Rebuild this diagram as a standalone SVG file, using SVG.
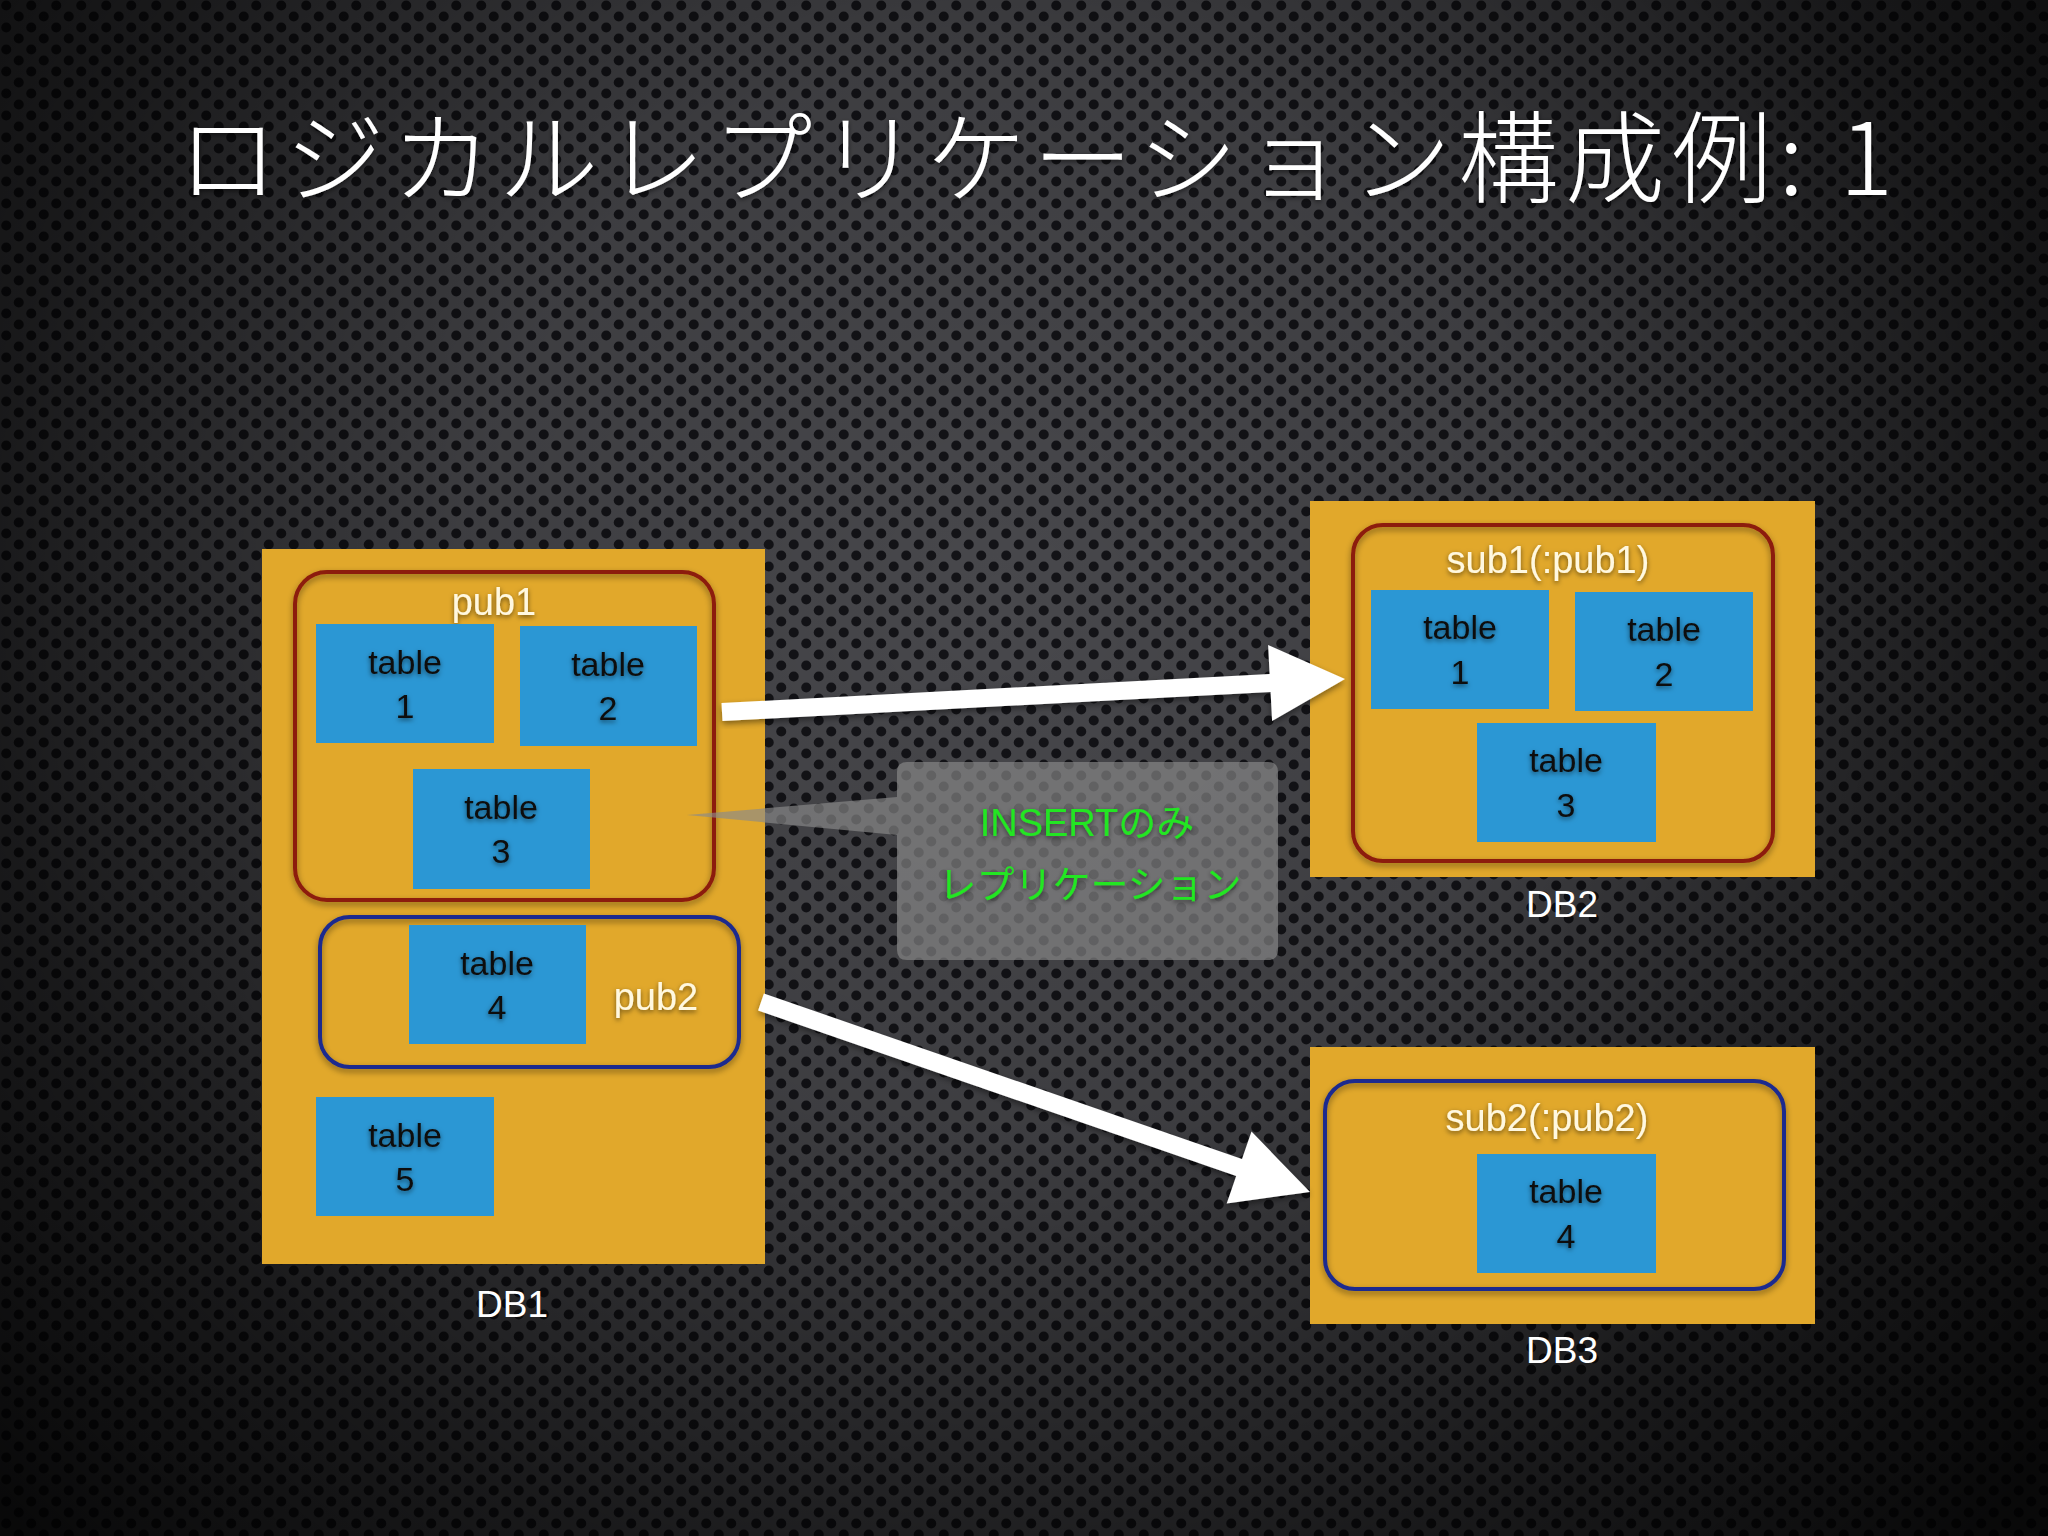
<svg xmlns="http://www.w3.org/2000/svg" width="2048" height="1536" viewBox="0 0 2048 1536">
  <defs>
    <pattern id="holes" width="25" height="22" patternUnits="userSpaceOnUse">
      <rect width="25" height="22" fill="#48484c"/>
      <circle cx="6.25" cy="5.5" r="5" fill="#131317"/>
      <circle cx="18.75" cy="16.5" r="5" fill="#131317"/>
    </pattern>
    <radialGradient id="vignette" cx="1000" cy="600" r="1350" gradientUnits="userSpaceOnUse">
      <stop offset="0" stop-color="#000" stop-opacity="0"/>
      <stop offset="0.4" stop-color="#000" stop-opacity="0.15"/>
      <stop offset="0.75" stop-color="#000" stop-opacity="0.65"/>
      <stop offset="1" stop-color="#000" stop-opacity="0.88"/>
    </radialGradient>
    <filter id="tshadow" x="-20%" y="-40%" width="140%" height="180%">
      <feDropShadow dx="0" dy="2" stdDeviation="2.5" flood-color="#000" flood-opacity="0.55"/>
    </filter>
    <filter id="bshadow" x="-5%" y="-5%" width="110%" height="115%">
      <feDropShadow dx="0" dy="3" stdDeviation="3" flood-color="#000" flood-opacity="0.45"/>
    </filter>
    <style>
      .db { fill: #e1a82b; }
      .tbl { fill: #2b97d4; }
      .pubR { fill: none; stroke: #8c1b0c; stroke-width: 4; }
      .pubB { fill: none; stroke: #1b2b8e; stroke-width: 4; }
      .tt { font-family: "Liberation Sans", Arial, sans-serif; font-size: 34px; fill: #111; text-anchor: middle; filter: url(#tshadow); }
      .lbl { font-family: "Liberation Sans", Arial, sans-serif; font-size: 38px; fill: #fff8e0; text-anchor: middle; filter: url(#tshadow); }
      .dbl { font-family: "Liberation Sans", Arial, sans-serif; font-size: 37px; fill: #ffffff; text-anchor: middle; }
      .title { font-family: "Noto Sans CJK JP", "Noto Sans", sans-serif; font-size: 100px; font-weight: 300; fill: #ffffff; filter: url(#tshadow); }
      .note { font-family: "Liberation Sans", "Noto Sans CJK JP", sans-serif; font-size: 38px; fill: #22e622; text-anchor: middle; filter: url(#tshadow); }
      .arrow { fill: #ffffff; filter: url(#bshadow); }
    </style>
  </defs>

  <rect width="2048" height="1536" fill="url(#holes)"/>
  <rect width="2048" height="1536" fill="url(#vignette)"/>

  <text class="title" x="178" y="195" textLength="1715" lengthAdjust="spacing">ロジカルレプリケーション構成例: 1</text>

  <!-- DB1 -->
  <g id="db1">
    <rect class="db" x="262" y="549" width="503" height="715"/>
    <text class="dbl" x="512" y="1317">DB1</text>
  </g>
  <g id="pub1">
    <rect class="pubR" x="295" y="572" width="419" height="328" rx="32" filter="url(#bshadow)"/>
    <text class="lbl" x="494" y="615">pub1</text>
  </g>
  <g id="db1-table1">
    <rect class="tbl" x="316" y="624" width="178" height="119"/>
    <text class="tt" x="405" y="674">table</text>
    <text class="tt" x="405" y="718">1</text>
  </g>
  <g id="db1-table2">
    <rect class="tbl" x="520" y="626" width="177" height="120"/>
    <text class="tt" x="608" y="676">table</text>
    <text class="tt" x="608" y="720">2</text>
  </g>
  <g id="db1-table3">
    <rect class="tbl" x="413" y="769" width="177" height="120"/>
    <text class="tt" x="501" y="819">table</text>
    <text class="tt" x="501" y="863">3</text>
  </g>
  <g id="pub2">
    <rect class="pubB" x="320" y="917" width="419" height="150" rx="30" filter="url(#bshadow)"/>
    <text class="lbl" x="656" y="1010">pub2</text>
  </g>
  <g id="db1-table4">
    <rect class="tbl" x="409" y="925" width="177" height="119"/>
    <text class="tt" x="497" y="975">table</text>
    <text class="tt" x="497" y="1019">4</text>
  </g>
  <g id="db1-table5">
    <rect class="tbl" x="316" y="1097" width="178" height="119"/>
    <text class="tt" x="405" y="1147">table</text>
    <text class="tt" x="405" y="1191">5</text>
  </g>

  <!-- DB2 -->
  <g id="db2">
    <rect class="db" x="1310" y="501" width="505" height="376"/>
    <text class="dbl" x="1562" y="917">DB2</text>
  </g>
  <g id="sub1">
    <rect class="pubR" x="1353" y="525" width="420" height="336" rx="30" filter="url(#bshadow)"/>
    <text class="lbl" x="1548" y="573">sub1(:pub1)</text>
  </g>
  <g id="db2-table1">
    <rect class="tbl" x="1371" y="590" width="178" height="119"/>
    <text class="tt" x="1460" y="639">table</text>
    <text class="tt" x="1460" y="684">1</text>
  </g>
  <g id="db2-table2">
    <rect class="tbl" x="1575" y="592" width="178" height="119"/>
    <text class="tt" x="1664" y="641">table</text>
    <text class="tt" x="1664" y="686">2</text>
  </g>
  <g id="db2-table3">
    <rect class="tbl" x="1477" y="723" width="179" height="119"/>
    <text class="tt" x="1566" y="772">table</text>
    <text class="tt" x="1566" y="817">3</text>
  </g>

  <!-- DB3 -->
  <g id="db3">
    <rect class="db" x="1310" y="1047" width="505" height="277"/>
    <text class="dbl" x="1562" y="1363">DB3</text>
  </g>
  <g id="sub2">
    <rect class="pubB" x="1325" y="1081" width="459" height="208" rx="30" filter="url(#bshadow)"/>
    <text class="lbl" x="1547" y="1131">sub2(:pub2)</text>
  </g>
  <g id="db3-table4">
    <rect class="tbl" x="1477" y="1154" width="179" height="119"/>
    <text class="tt" x="1566" y="1203">table</text>
    <text class="tt" x="1566" y="1248">4</text>
  </g>

  <!-- callout -->
  <g id="callout">
    <path d="M 907 762 H 1268 Q 1278 762 1278 772 V 950 Q 1278 960 1268 960 H 907 Q 897 960 897 950 V 835 L 687 815 L 897 797 V 772 Q 897 762 907 762 Z" fill="#8a8a8a" fill-opacity="0.66"/>
    <text class="note" x="1087" y="836">INSERTのみ</text>
    <text class="note" x="1090" y="898">レプリケーション</text>
  </g>

  <!-- connectors -->
  <g id="connectors">
    <polygon class="arrow" points="722.5,721 721.5,703 1269.6,674 1268.1,645.1 1345,679 1272.1,720.9 1270.6,692"/>
    <polygon class="arrow" points="758.1,1010.5 763.9,993.5 1242,1159 1251.5,1131.6 1310,1192 1226.7,1203.4 1236.2,1176"/>
  </g>
</svg>
